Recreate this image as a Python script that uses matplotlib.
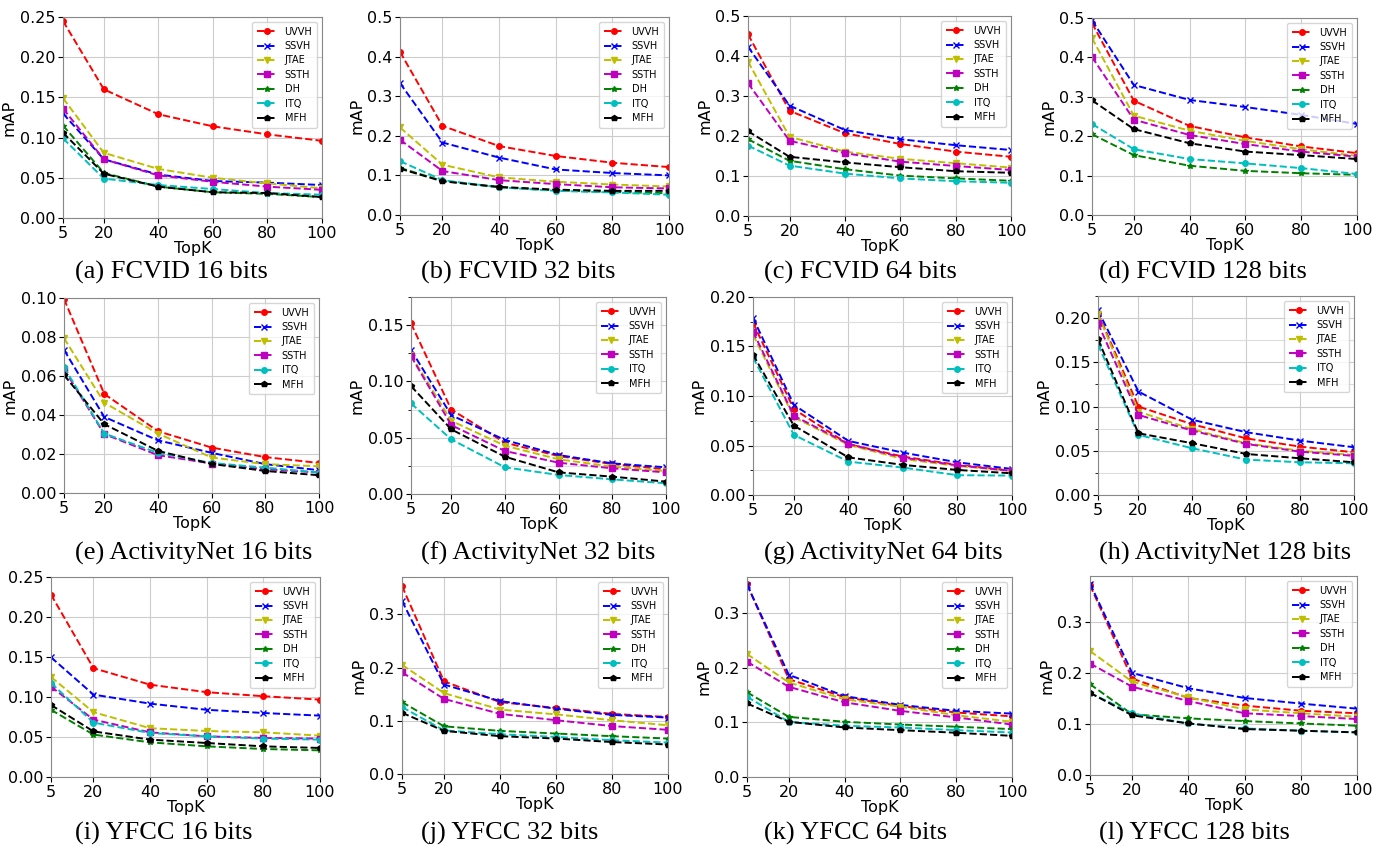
import matplotlib
matplotlib.use("Agg")
import matplotlib.pyplot as plt
from matplotlib.ticker import MultipleLocator, FormatStrFormatter

topk = [5, 20, 40, 60, 80, 100]

methods = ["UVVH", "SSVH", "JTAE", "SSTH", "DH", "ITQ", "MFH"]
colors = {"UVVH": "r", "SSVH": "b", "JTAE": "y", "SSTH": "m",
          "DH": "g", "ITQ": "c", "MFH": "k"}
markers = {"UVVH": "o", "SSVH": "x", "JTAE": "v", "SSTH": "s",
           "DH": "*", "ITQ": "o", "MFH": "p"}

# mAP, one dict per panel
fcvid_16 = {
    "UVVH": [0.245, 0.160, 0.129, 0.114, 0.104, 0.096],
    "SSVH": [0.130, 0.073, 0.054, 0.046, 0.044, 0.041],
    "JTAE": [0.149, 0.081, 0.061, 0.050, 0.043, 0.037],
    "SSTH": [0.136, 0.073, 0.053, 0.045, 0.039, 0.035],
    "DH":   [0.115, 0.056, 0.039, 0.032, 0.030, 0.026],
    "ITQ":  [0.099, 0.049, 0.041, 0.036, 0.031, 0.029],
    "MFH":  [0.106, 0.055, 0.039, 0.032, 0.031, 0.026],
}
fcvid_32 = {
    "UVVH": [0.412, 0.225, 0.174, 0.149, 0.132, 0.121],
    "SSVH": [0.333, 0.183, 0.145, 0.115, 0.106, 0.100],
    "JTAE": [0.221, 0.127, 0.095, 0.084, 0.077, 0.072],
    "SSTH": [0.190, 0.111, 0.088, 0.078, 0.070, 0.067],
    "DH":   [0.119, 0.086, 0.070, 0.062, 0.058, 0.055],
    "ITQ":  [0.136, 0.088, 0.070, 0.061, 0.057, 0.051],
    "MFH":  [0.117, 0.085, 0.071, 0.064, 0.061, 0.061],
}
fcvid_64 = {
    "UVVH": [0.454, 0.263, 0.207, 0.180, 0.161, 0.148],
    "SSVH": [0.423, 0.276, 0.215, 0.192, 0.177, 0.165],
    "JTAE": [0.386, 0.198, 0.161, 0.143, 0.132, 0.121],
    "SSTH": [0.332, 0.188, 0.157, 0.136, 0.125, 0.115],
    "DH":   [0.192, 0.138, 0.117, 0.101, 0.094, 0.088],
    "ITQ":  [0.176, 0.126, 0.106, 0.094, 0.087, 0.083],
    "MFH":  [0.212, 0.148, 0.134, 0.122, 0.112, 0.108],
}
fcvid_128 = {
    "UVVH": [0.487, 0.290, 0.226, 0.197, 0.174, 0.157],
    "SSVH": [0.494, 0.330, 0.292, 0.274, 0.254, 0.231],
    "JTAE": [0.449, 0.252, 0.214, 0.188, 0.167, 0.150],
    "SSTH": [0.401, 0.242, 0.203, 0.180, 0.161, 0.148],
    "DH":   [0.205, 0.152, 0.125, 0.112, 0.106, 0.102],
    "ITQ":  [0.231, 0.167, 0.142, 0.131, 0.119, 0.104],
    "MFH":  [0.291, 0.218, 0.182, 0.161, 0.152, 0.142],
}
anet_16 = {
    "UVVH": [0.0995, 0.0508, 0.0317, 0.0233, 0.0184, 0.0154],
    "SSVH": [0.0734, 0.0390, 0.0270, 0.0206, 0.0148, 0.0117],
    "JTAE": [0.0794, 0.0463, 0.0305, 0.0182, 0.0148, 0.0137],
    "SSTH": [0.0635, 0.0302, 0.0194, 0.0151, 0.0122, 0.0105],
    "ITQ":  [0.0645, 0.0305, 0.0206, 0.0154, 0.0130, 0.0105],
    "MFH":  [0.0605, 0.0353, 0.0216, 0.0149, 0.0113, 0.0091],
}
anet_32 = {
    "UVVH": [0.1515, 0.0750, 0.0456, 0.0337, 0.0266, 0.0219],
    "SSVH": [0.1280, 0.0700, 0.0480, 0.0346, 0.0272, 0.0237],
    "JTAE": [0.1234, 0.0650, 0.0429, 0.0308, 0.0243, 0.0204],
    "SSTH": [0.1225, 0.0612, 0.0382, 0.0278, 0.0228, 0.0192],
    "ITQ":  [0.0805, 0.0485, 0.0237, 0.0169, 0.0130, 0.0095],
    "MFH":  [0.0959, 0.0574, 0.0331, 0.0192, 0.0154, 0.0110],
}
anet_64 = {
    "UVVH": [0.174, 0.0867, 0.0513, 0.0388, 0.0304, 0.0246],
    "SSVH": [0.179, 0.0910, 0.0546, 0.0428, 0.0330, 0.0263],
    "JTAE": [0.162, 0.0786, 0.0506, 0.0364, 0.0293, 0.0246],
    "SSTH": [0.165, 0.0800, 0.0516, 0.0378, 0.0300, 0.0243],
    "ITQ":  [0.139, 0.0607, 0.0337, 0.0277, 0.0200, 0.0196],
    "MFH":  [0.1417, 0.0700, 0.0380, 0.0304, 0.0253, 0.0219],
}
anet_128 = {
    "UVVH": [0.2057, 0.100, 0.080, 0.064, 0.0547, 0.0483],
    "SSVH": [0.2087, 0.117, 0.085, 0.071, 0.0615, 0.0540],
    "JTAE": [0.2045, 0.0943, 0.0743, 0.0585, 0.050, 0.0453],
    "SSTH": [0.194, 0.0905, 0.0728, 0.0577, 0.049, 0.0442],
    "ITQ":  [0.170, 0.068, 0.0528, 0.040, 0.037, 0.0358],
    "MFH":  [0.176, 0.0698, 0.0585, 0.0464, 0.0415, 0.037],
}
yfcc_16 = {
    "UVVH": [0.228, 0.136, 0.1154, 0.106, 0.101, 0.0967],
    "SSVH": [0.1496, 0.103, 0.0917, 0.084, 0.080, 0.0767],
    "JTAE": [0.125, 0.081, 0.061, 0.0575, 0.0558, 0.0517],
    "SSTH": [0.113, 0.0717, 0.0558, 0.0508, 0.0488, 0.048],
    "DH":   [0.084, 0.053, 0.0433, 0.0383, 0.035, 0.0333],
    "ITQ":  [0.1175, 0.068, 0.055, 0.0508, 0.048, 0.0467],
    "MFH":  [0.090, 0.057, 0.0467, 0.0425, 0.0383, 0.0363],
}
yfcc_32 = {
    "UVVH": [0.353, 0.174, 0.135, 0.124, 0.113, 0.107],
    "SSVH": [0.325, 0.168, 0.137, 0.1226, 0.111, 0.106],
    "JTAE": [0.205, 0.152, 0.121, 0.112, 0.101, 0.0915],
    "SSTH": [0.191, 0.141, 0.113, 0.101, 0.090, 0.083],
    "DH":   [0.135, 0.0896, 0.081, 0.076, 0.071, 0.0666],
    "ITQ":  [0.1257, 0.082, 0.0747, 0.0697, 0.0635, 0.059],
    "MFH":  [0.115, 0.081, 0.071, 0.0666, 0.060, 0.0554],
}
yfcc_64 = {
    "UVVH": [0.353, 0.179, 0.146, 0.130, 0.118, 0.111],
    "SSVH": [0.352, 0.187, 0.148, 0.132, 0.121, 0.116],
    "JTAE": [0.225, 0.173, 0.142, 0.1286, 0.113, 0.101],
    "SSTH": [0.211, 0.165, 0.1366, 0.121, 0.109, 0.096],
    "DH":   [0.155, 0.110, 0.101, 0.096, 0.092, 0.0876],
    "ITQ":  [0.147, 0.101, 0.0937, 0.0906, 0.0857, 0.0814],
    "MFH":  [0.1347, 0.101, 0.0906, 0.0857, 0.081, 0.0753],
}
yfcc_128 = {
    "UVVH": [0.372, 0.189, 0.151, 0.136, 0.126, 0.121],
    "SSVH": [0.375, 0.200, 0.170, 0.151, 0.140, 0.130],
    "JTAE": [0.243, 0.183, 0.152, 0.1285, 0.121, 0.114],
    "SSTH": [0.2185, 0.173, 0.145, 0.121, 0.1155, 0.1096],
    "DH":   [0.178, 0.119, 0.111, 0.1057, 0.101, 0.0965],
    "ITQ":  [0.161, 0.1207, 0.101, 0.0913, 0.0868, 0.0835],
    "MFH":  [0.161, 0.117, 0.101, 0.090, 0.0868, 0.0835],
}

captions = ["(a) FCVID 16 bits", "(b) FCVID 32 bits", "(c) FCVID 64 bits",
            "(d) FCVID 128 bits", "(e) ActivityNet 16 bits",
            "(f) ActivityNet 32 bits", "(g) ActivityNet 64 bits",
            "(h) ActivityNet 128 bits", "(i) YFCC 16 bits",
            "(j) YFCC 32 bits", "(k) YFCC 64 bits", "(l) YFCC 128 bits"]
panels = [fcvid_16, fcvid_32, fcvid_64, fcvid_128,
          anet_16, anet_32, anet_64, anet_128,
          yfcc_16, yfcc_32, yfcc_64, yfcc_128]

# axes box in pixels (left, top, right, bottom), y limit, major step, minor step, tick format
W, H = 1381, 855
layout = [
    ((63, 17, 322, 218), 0.25, 0.05, None, "%.2f"),
    ((400, 17, 669, 215), 0.5, 0.1, None, "%.1f"),
    ((748, 16, 1011, 216), 0.5, 0.1, None, "%.1f"),
    ((1092, 18, 1357, 215), 0.5, 0.1, None, "%.1f"),
    ((64, 298, 319, 493), 0.10, 0.02, None, "%.2f"),
    ((411, 297, 666, 494), 0.175, 0.05, 0.025, "%.2f"),
    ((753, 297, 1012, 495), 0.20, 0.05, 0.025, "%.2f"),
    ((1098, 296, 1354, 495), 0.225, 0.05, 0.025, "%.2f"),
    ((51, 577, 320, 777), 0.25, 0.05, None, "%.2f"),
    ((402, 577, 668, 774), 0.37, 0.1, None, "%.1f"),
    ((747, 577, 1012, 777), 0.366, 0.1, None, "%.1f"),
    ((1090, 576, 1357, 775), 0.39, 0.1, None, "%.1f"),
]
caption_x = [75, 421, 764, 1099]
caption_y = [272, 553, 833]

plt.rcParams["font.family"] = "DejaVu Sans"
fig = plt.figure(figsize=(W / 100, H / 100), dpi=100)

for i, (data, caption, (box, ytop, major, minor, fmt)) in enumerate(
        zip(panels, captions, layout)):
    l, t, r, b = box
    ax = fig.add_axes([l / W, 1 - b / H, (r - l) / W, (b - t) / H])
    for m in methods:
        if m not in data:
            continue
        ax.plot(topk, data[m], linestyle="--", color=colors[m],
                marker=markers[m], markersize=4, linewidth=1.4, label=m)
    ax.set_xlim(5, 100)
    ax.set_ylim(0, ytop)
    ax.set_xticks(topk)
    ax.yaxis.set_major_locator(MultipleLocator(major))
    ax.yaxis.set_major_formatter(FormatStrFormatter(fmt))
    if minor:
        ax.yaxis.set_minor_locator(MultipleLocator(minor))
        ax.grid(True, which="minor", axis="y", color="#dddddd", linewidth=0.8)
    ax.grid(True, which="major", color="#cccccc", linewidth=0.8)
    ax.tick_params(labelsize=11.5, pad=2)
    for s in ax.spines.values():
        s.set_color("#888888")
    ax.set_xlabel("TopK", fontsize=11.5, labelpad=0)
    # the reference crops the y label of the YFCC 16 bits panel
    if i != 8:
        ax.set_ylabel("mAP", fontsize=11.5, labelpad=2)
    ax.legend(loc="upper right", fontsize=7, handlelength=2.0,
              borderpad=0.5, labelspacing=0.45, handletextpad=0.8)
    fig.text(caption_x[i % 4] / W, 1 - caption_y[i // 4] / H, caption,
             family="Liberation Serif", fontsize=19,
             ha="left", va="center")

fig.savefig("out.png", dpi=100)
